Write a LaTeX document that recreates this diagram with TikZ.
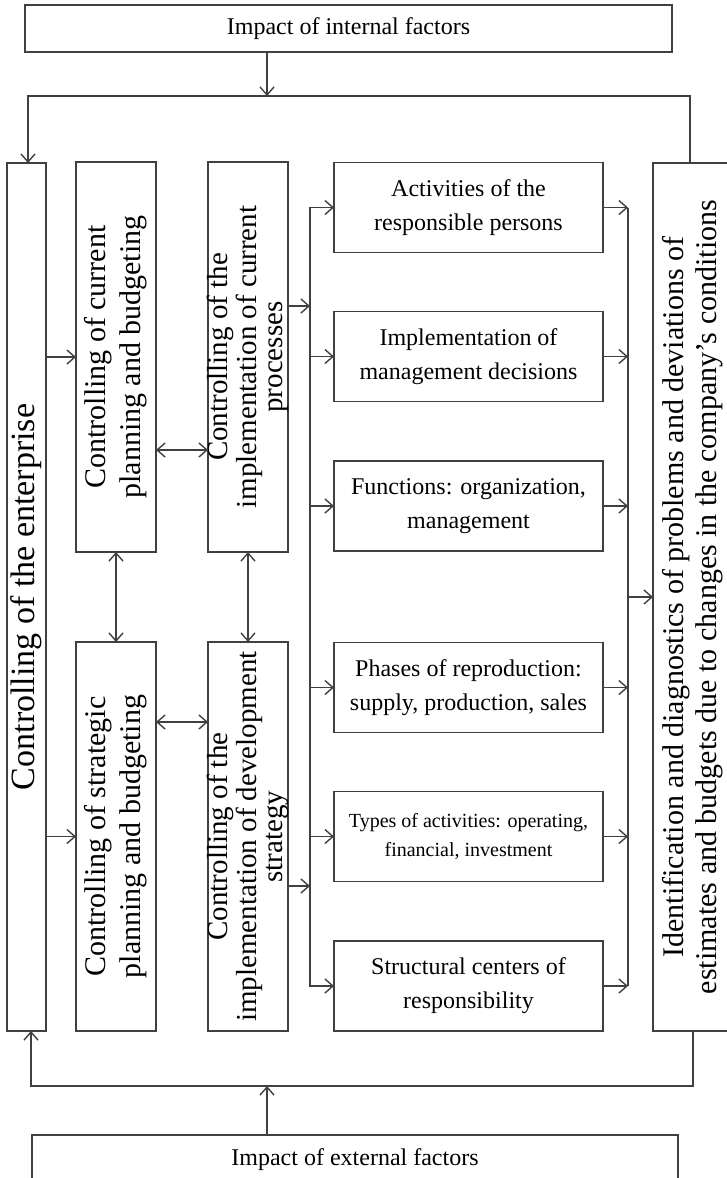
\documentclass[tikz,border=0pt]{standalone}
\usepackage{fontspec}
\setmainfont{Liberation Serif}
\usetikzlibrary{arrows.meta}

% rotated multi-line labels
\newcommand{\vlines}[1]{\rotatebox{90}{\begin{tabular}{@{}c@{}}#1\end{tabular}}}
\newcommand{\vpar}[1]{\makebox[36pt]{\rotatebox{90}{\parbox{190pt}{\centering #1}}}}

\begin{document}
\begin{tikzpicture}[x=0.5pt, y=-0.5pt, line width=0.7pt, >={Straight Barb[length=4pt,width=7pt]},
    box/.style={draw=black!75, rectangle, inner sep=0pt, outer sep=0pt, align=center},
    sidebox/.style={box, minimum width=40pt, minimum height=195pt, font=\fontsize{15}{17.5}\selectfont},
    itembox/.style={box, minimum width=134.5pt, minimum height=45pt, font=\fontsize{12}{17}\selectfont},
    link/.style={draw=black!75}]

        \useasboundingbox (0,0) rectangle (727,1178);
        \clip (0,0) rectangle (727,1178);

        % Factors on top and bottom
        \node[box, minimum width=323.5pt, minimum height=23.5pt, font=\fontsize{12}{14}\selectfont] (internal) at (348.5,28.5) {Impact of internal factors};
        \node[box, minimum width=323pt, minimum height=25pt, font=\fontsize{12}{14}\selectfont] (external) at (355,1160) {Impact of external factors};

        % Outer columns
        \node[box, minimum width=19.5pt, minimum height=434pt, font=\fontsize{17}{20}\selectfont] (enterprise) at (26.5,597) {\rotatebox{90}{Controlling of the enterprise}};
        \node[box, minimum width=40.5pt, minimum height=434pt, font=\fontsize{15}{16.5}\selectfont] (ident) at (693.5,597) {\vlines{Identification and diagnostics of problems and deviations of\\estimates and budgets due to changes in the company's conditions}};

        % Planning and implementation columns
        \node[sidebox] (curplan) at (116,357) {\vlines{Controlling of current\\planning and budgeting}};
        \node[sidebox, font=\fontsize{14.5}{12.8}\selectfont] (curproc) at (248,357) {\vpar{Controlling of the\\implementation of current\\processes}};
        \node[sidebox, minimum height=194.5pt] (strplan) at (116,836.5) {\vlines{Controlling of strategic\\planning and budgeting}};
        \node[sidebox, minimum height=194.5pt, font=\fontsize{14.5}{12.8}\selectfont] (devstr) at (248,836.5) {\vpar{Controlling of the\\implementation of development\\strategy}};

        % Objects of control
        \node[itembox] (persons) at (468.5,207.5) {Activities of the\\responsible persons};
        \node[itembox] (decisions) at (468.5,356.5) {Implementation of\\management decisions};
        \node[itembox] (functions) at (468.5,506) {Functions: organization,\\management};
        \node[itembox] (phases) at (468.5,687.5) {Phases of reproduction:\\supply, production, sales};
        \node[itembox, font=\fontsize{10}{14.5}\selectfont] (types) at (468.5,836.5) {Types of activities: operating,\\financial, investment};
        \node[itembox] (centers) at (468.5,986) {Structural centers of\\responsibility};

        % Bus points
        \coordinate (topL) at (28,96);
        \coordinate (topM) at (267,96);
        \coordinate (topR) at (690,96);
        \coordinate (botL) at (31,1086);
        \coordinate (botM) at (267,1086);
        \coordinate (botR) at (693,1086);
        \coordinate (lbus) at (310,600);
        \coordinate (rbus) at (628,600);
        \coordinate (procOut) at (310,306);
        \coordinate (devOut) at (310,886);
        \coordinate (curLink) at (182,450);
        \coordinate (strLink) at (182,722);

        % Influence of the factors
        \draw[link, ->] (internal.south -| topM) -- (topM);
        \draw[link, ->] (ident.north -| topR) -- (topR) -- (topL) -- (enterprise.north -| topL);
        \draw[link, ->] (external.north -| botM) -- (botM);
        \draw[link, ->] (ident.south -| botR) -- (botR) -- (botL) -- (enterprise.south -| botL);

        % Enterprise to planning
        \draw[link, ->] (enterprise.east |- curplan) -- (curplan.west);
        \draw[link, ->] (enterprise.east |- strplan) -- (strplan.west);

        % Links between planning and implementation
        \draw[link, <->] (curLink -| curplan.east) -- (curLink -| curproc.west);
        \draw[link, <->] (strLink -| strplan.east) -- (strLink -| devstr.west);
        \draw[link, <->] (curplan.south) -- (strplan.north);
        \draw[link, <->] (curproc.south) -- (devstr.north);

        % Implementation to objects
        \draw[link, ->] (procOut -| curproc.east) -- (procOut);
        \draw[link, ->] (devOut -| devstr.east) -- (devOut);
        \draw[link, <->] (persons.west) -| (lbus) |- (centers.west);
        \draw[link, ->] (decisions.west -| lbus) -- (decisions.west);
        \draw[link, ->] (functions.west -| lbus) -- (functions.west);
        \draw[link, ->] (phases.west -| lbus) -- (phases.west);
        \draw[link, ->] (types.west -| lbus) -- (types.west);

        % Objects to identification
        \draw[link, ->] (persons.east) -- (persons.east -| rbus);
        \draw[link, ->] (decisions.east) -- (decisions.east -| rbus);
        \draw[link, ->] (functions.east) -- (functions.east -| rbus);
        \draw[link, ->] (phases.east) -- (phases.east -| rbus);
        \draw[link, ->] (types.east) -- (types.east -| rbus);
        \draw[link, ->] (centers.east) -- (centers.east -| rbus);
        \draw[link] (persons.east -| rbus) -- (centers.east -| rbus);
        \draw[link, ->] (ident.west -| rbus) -- (ident.west);
    \end{tikzpicture}
\end{document}
